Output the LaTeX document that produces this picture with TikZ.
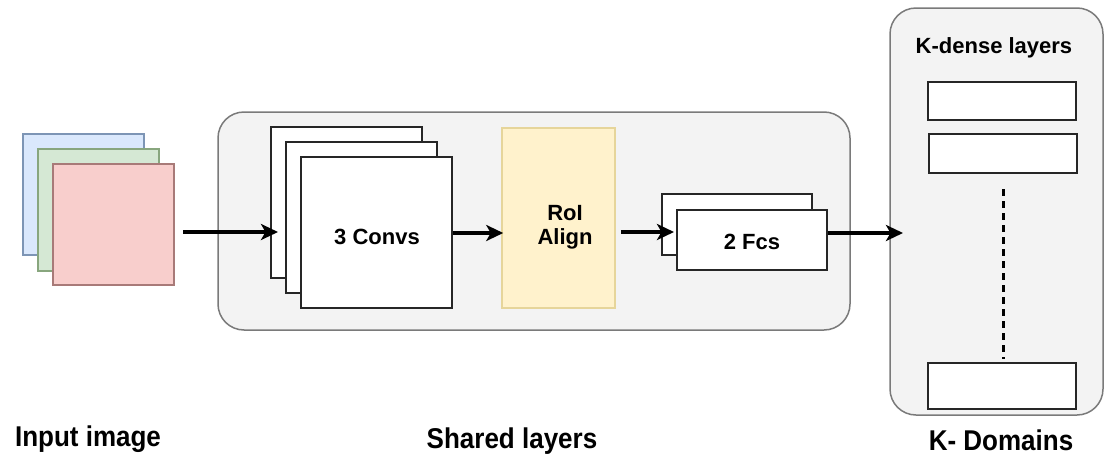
\documentclass[tikz,border=0pt]{standalone}
\usepackage{fontspec}
\setmainfont{Liberation Sans}
\usetikzlibrary{arrows.meta}

\definecolor{panelfill}{HTML}{F3F3F3}
\definecolor{panelline}{HTML}{7A7A7A}
\definecolor{bluefill}{HTML}{DAE8FC}
\definecolor{blueline}{HTML}{7D95B5}
\definecolor{greenfill}{HTML}{D5E8D4}
\definecolor{greenline}{HTML}{88A67E}
\definecolor{redfill}{HTML}{F8CECC}
\definecolor{redline}{HTML}{A87A78}
\definecolor{roifill}{HTML}{FFF2CC}
\definecolor{roiline}{HTML}{E6D59A}

\tikzset{
  panel/.style={draw=panelline, fill=panelfill, line width=1.5pt, rounded corners=26pt},
  layer/.style={draw=black!85, fill=white, line width=2pt},
  channel/.style={line width=1.5pt},
  flow/.style={-{Stealth[length=17pt,width=16pt,inset=4.5pt]}, line width=3.2pt, black},
  lbl/.style={font=\bfseries\fontsize{22}{24}\selectfont, inner sep=0pt, align=center},
  caption/.style={font=\bfseries\fontsize{26}{28}\selectfont, inner sep=0pt, yscale=1.1}
}

\begin{document}
\begin{tikzpicture}[x=1pt, y=-1pt]
  \useasboundingbox (0,0) rectangle (1104,458);
  \fill[white] (0,0) rectangle (1104,458);

  % input image: three colour channels
  \draw[channel, draw=blueline, fill=bluefill] (23,134) rectangle (144,255);
  \draw[channel, draw=greenline, fill=greenfill] (38,149) rectangle (159,271);
  \draw[channel, draw=redline, fill=redfill] (53,164) rectangle (174,285);
  \coordinate (inp) at (183,232);

  % shared layers panel
  \draw[panel] (218,112) rectangle (850,330);

  % convolution stack
  \draw[layer] (271,127) rectangle (422,278);
  \draw[layer] (286,142) rectangle (437,293);
  \node[layer, minimum width=151pt, minimum height=151pt, inner sep=0pt] (conv) at (376.5,232.5) {};
  \node[lbl] at (377,237) {3 Convs};
  \coordinate (convin) at (278,232);

  % RoI Align block
  \node[draw=roiline, fill=roifill, line width=1.5pt, minimum width=113pt, minimum height=180pt, inner sep=0pt] (roi) at (558.5,218) {};
  \node[lbl] at (565,227) {RoI\\Align};

  % fully connected stack
  \draw[layer] (662,194) rectangle (812,255);
  \node[layer, minimum width=150pt, minimum height=60pt, inner sep=0pt] (fc) at (752,240) {};
  \node[lbl] at (752,242) {2 Fcs};
  \coordinate (fcin) at (674,232);

  % K domains panel with dense heads
  \draw[panel] (890,8) rectangle (1103,415);
  \node[lbl] (kd) at (994,48) {K-dense layers};
  \node[layer, minimum width=148pt, minimum height=38pt, inner sep=0pt] (d1) at (1002,101) {};
  \node[layer, minimum width=148pt, minimum height=39pt, inner sep=0pt] (d2) at (1003,153.5) {};
  \node[layer, minimum width=148pt, minimum height=46pt, inner sep=0pt] (dk) at (1002,386) {};
  \draw[line width=3pt, dash pattern=on 7pt off 5pt] (1003,189) -- (1003,359);
  \coordinate (kin) at (903,233);

  % connectors
  \draw[flow] (inp) -- (convin);
  \draw[flow] (conv.east |- 0,233) -- ([xshift=2pt]roi.west |- 0,233);
  \draw[flow] (roi.east |- 0,232) ++(5,0) -- (fcin);
  \draw[flow] (fc.east |- kin) -- (kin);

  % captions
  \node[caption] at (88,439) {Input image};
  \node[caption] at (512,441) {Shared layers};
  \node[caption] at (1001,440) {K- Domains};
\end{tikzpicture}
\end{document}
